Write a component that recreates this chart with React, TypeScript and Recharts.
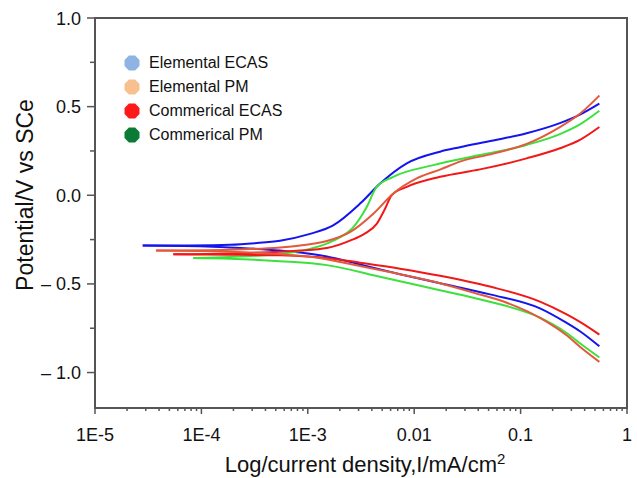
import { LineChart, Line, XAxis, YAxis, ReferenceArea, Legend, Label } from 'recharts'

// ─── Data: [current density (mA/cm²), potential (V vs SCE)] ─────────────────
// each sample = cathodic branch + anodic branch, both start at the corrosion point

const elementalEcasCathodic = [
  [2.81e-5, -0.284], [9.7e-5, -0.288], [2.31e-4, -0.297], [5.48e-4, -0.312], [1.51e-3, -0.345],
  [3.1e-3, -0.39], [7.35e-3, -0.445], [1.75e-2, -0.496], [5.15e-2, -0.559], [0.152, -0.638],
  [0.271, -0.72], [0.361, -0.767], [0.55, -0.852],
]
const elementalEcasAnodic = [
  [2.81e-5, -0.284], [7.8e-5, -0.283], [1.86e-4, -0.279], [3.19e-4, -0.27], [5.48e-4, -0.256],
  [1.05e-3, -0.218], [1.73e-3, -0.17], [3.1e-3, -0.047], [4.78e-3, 0.066], [8.51e-3, 0.18],
  [1.75e-2, 0.246], [2.69e-2, 0.271], [5.53e-2, 0.309], [0.114, 0.35], [0.234, 0.407],
  [0.361, 0.455], [0.55, 0.517],
]

const elementalPmCathodic = [
  [3.75e-5, -0.312], [1.86e-4, -0.318], [5.48e-4, -0.332], [1.14e-3, -0.35], [3.45e-3, -0.405],
  [7.35e-3, -0.445], [1.75e-2, -0.496], [3.59e-2, -0.549], [7.4e-2, -0.606], [0.152, -0.691],
  [0.271, -0.79], [0.361, -0.855], [0.55, -0.94],
]
const elementalPmAnodic = [
  [3.75e-5, -0.312], [1.86e-4, -0.307], [5.48e-4, -0.294], [8.45e-4, -0.283], [1.51e-3, -0.258],
  [2.49e-3, -0.208], [4.13e-3, -0.104], [6.36e-3, 0.01], [1.056e-2, 0.095], [1.75e-2, 0.145],
  [2.69e-2, 0.19], [5.54e-2, 0.235], [0.114, 0.29], [0.234, 0.385], [0.361, 0.46], [0.55, 0.5625],
]

const commercialEcasCathodic = [
  [5.45e-5, -0.333], [1.86e-4, -0.335], [5.48e-4, -0.339], [1.62e-3, -0.356], [3.1e-3, -0.38],
  [7.35e-3, -0.414], [1.75e-2, -0.454], [5.15e-2, -0.515], [0.152, -0.6], [0.271, -0.672],
  [0.361, -0.714], [0.55, -0.786],
]
const commercialEcasAnodic = [
  [5.45e-5, -0.333], [1.86e-4, -0.328], [5.48e-4, -0.318], [8.45e-4, -0.312], [1.51e-3, -0.298],
  [2.49e-3, -0.256], [3.45e-3, -0.215], [4.44e-3, -0.161], [5.32e-3, -0.076], [6.14e-3, 0.0],
  [8.51e-3, 0.047], [1.75e-2, 0.104], [4.15e-2, 0.146], [0.114, 0.208], [0.234, 0.265],
  [0.361, 0.3125], [0.55, 0.385],
]

const commercialPmCathodic = [
  [8.39e-5, -0.354], [1.86e-4, -0.358], [5.48e-4, -0.372], [1.51e-3, -0.394], [5.12e-3, -0.464],
  [1.75e-2, -0.536], [3.59e-2, -0.578], [7.4e-2, -0.625], [0.152, -0.69], [0.271, -0.777],
  [0.361, -0.835], [0.55, -0.915],
]
const commercialPmAnodic = [
  [8.39e-5, -0.354], [1.86e-4, -0.348], [5.48e-4, -0.331], [8.45e-4, -0.315], [1.74e-3, -0.256],
  [2.68e-3, -0.18], [3.58e-3, -0.066], [4.44e-3, 0.047], [6.36e-3, 0.104], [1.51e-2, 0.17],
  [4.15e-2, 0.227], [0.114, 0.284], [0.234, 0.345], [0.361, 0.4], [0.55, 0.477],
]

// ─── Legend / axes ───────────────────────────────────────────────────────────

const legendNames = ['Elemental ECAS', 'Elemental PM', 'Commerical ECAS', 'Commerical PM']
const legendColors = ['#8db4e2', '#f7c08e', '#ff1a1a', '#0b7a34']

const xMajor = [1e-5, 1e-4, 1e-3, 1e-2, 1e-1, 1]
const xLabels = ['1E-5', '1E-4', '1E-3', '0.01', '0.1', '1']
const xMinorSteps = [2, 3, 4, 5, 6, 7, 8, 9]
const xTicks = [
  ...xMajor,
  ...xMajor.slice(0, -1).flatMap((d) => xMinorSteps.map((m) => m * d)),
]

const yMajor = [1.0, 0.5, 0, -0.5, -1.0]
const yLabels = ['1.0', '0.5', '0.0', '\u2013 0.5', '\u2013 1.0']
const yMinor = [0.75, 0.25, -0.25, -0.75]
const yTicks = [...yMajor, ...yMinor]

const AXIS = '#555'
const INK = '#111'

const series = [
  { key: 'ee', stroke: '#1414ee', branches: [elementalEcasCathodic, elementalEcasAnodic] },
  { key: 'cp', stroke: '#3ee03e', branches: [commercialPmCathodic, commercialPmAnodic] },
  { key: 'ce', stroke: '#f21818', branches: [commercialEcasCathodic, commercialEcasAnodic] },
  { key: 'ep', stroke: '#e2593c', branches: [elementalPmCathodic, elementalPmAnodic] },
]

const toPts = (rows: number[][]) => rows.map(([i, e]) => ({ i, e }))

function XTick({ x, y, payload }: any) {
  const idx = xMajor.indexOf(payload.value)
  const major = idx >= 0
  return (
    <g>
      <line x1={x} x2={x} y1={y} y2={y + (major ? 6 : 3)} stroke={AXIS} strokeWidth={1.5} />
      {major && (
        <text x={x} y={y + 33} textAnchor="middle" fontSize={18} fill={INK}>
          {xLabels[idx]}
        </text>
      )}
    </g>
  )
}

function YTick({ x, y, payload }: any) {
  const idx = yMajor.indexOf(payload.value)
  const major = idx >= 0
  return (
    <g>
      <line x1={x - (major ? 8 : 5)} x2={x} y1={y} y2={y} stroke={AXIS} strokeWidth={1.5} />
      {major && (
        <text x={x - 14} y={y + 6.5} textAnchor="end" fontSize={18} fill={INK}>
          {yLabels[idx]}
        </text>
      )}
    </g>
  )
}

const OCTAGON = '4.9,0.5 11.1,0.5 15.5,4.9 15.5,11.1 11.1,15.5 4.9,15.5 0.5,11.1 0.5,4.9'

function LegendBox() {
  return (
    <div style={{ fontSize: 16, color: INK }}>
      {legendNames.map((name, k) => (
        <div key={name} style={{ display: 'flex', alignItems: 'center', height: 23.9 }}>
          <svg width={16} height={16} style={{ display: 'block' }}>
            <polygon points={OCTAGON} fill={legendColors[k]} />
          </svg>
          <span style={{ marginLeft: 9, lineHeight: '16px', whiteSpace: 'nowrap' }}>{name}</span>
        </div>
      ))}
    </div>
  )
}

export default function App() {
  return (
    <div
      style={{
        width: 637,
        height: 478,
        background: '#fff',
        fontFamily: '"Liberation Sans", Arial, Helvetica, sans-serif',
      }}
    >
      <style>{'body { margin: 0; }'}</style>
      <LineChart width={637} height={478} margin={{ top: 18, right: 10, bottom: 0, left: 0 }}>
        <XAxis
          type="number"
          dataKey="i"
          scale="log"
          domain={[1e-5, 1]}
          ticks={xTicks}
          interval={0}
          allowDataOverflow
          height={70}
          tickSize={0}
          tickMargin={0}
          tickLine={false}
          axisLine={{ stroke: AXIS, strokeWidth: 2 }}
          tick={(p: any) => <XTick {...p} />}
        >
          <Label
            content={() => (
              <text x={365} y={472} textAnchor="middle" fontSize={22} fill={INK}>
                <tspan>Log/current density,I/mA/cm</tspan>
                <tspan dy={-8} fontSize={15}>2</tspan>
              </text>
            )}
          />
        </XAxis>
        <YAxis
          type="number"
          domain={[-1.2, 1.0]}
          ticks={yTicks}
          interval={0}
          allowDataOverflow
          width={95}
          tickSize={0}
          tickMargin={0}
          tickLine={false}
          axisLine={{ stroke: AXIS, strokeWidth: 2 }}
          tick={(p: any) => <YTick {...p} />}
        >
          <Label
            content={() => (
              <text
                x={33}
                y={195}
                transform="rotate(-90 33 195)"
                textAnchor="middle"
                fontSize={23}
                fill={INK}
              >
                Potential/V vs SCe
              </text>
            )}
          />
        </YAxis>
        <ReferenceArea
          x1={1e-5}
          x2={1}
          y1={-1.2}
          y2={1.0}
          fill="none"
          stroke={AXIS}
          strokeWidth={2}
        />
        {series.flatMap((s) =>
          s.branches.map((b, j) => (
            <Line
              key={`${s.key}-${j}`}
              data={toPts(b)}
              dataKey="e"
              type="monotone"
              stroke={s.stroke}
              strokeWidth={2}
              dot={false}
              activeDot={false}
              legendType="none"
              isAnimationActive={false}
            />
          ))
        )}
        <Legend
          layout="horizontal"
          verticalAlign="middle"
          align="center"
          wrapperStyle={{ left: 124, top: 51, width: 220 }}
          content={() => <LegendBox />}
        />
      </LineChart>
    </div>
  )
}
